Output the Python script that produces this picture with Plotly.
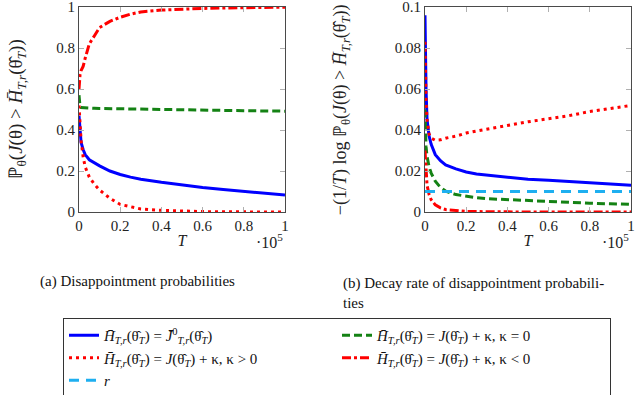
import plotly.graph_objects as go
from plotly.subplots import make_subplots

# T in units of 1e5
T = [0, 0.002, 0.005, 0.01, 0.02, 0.03, 0.05, 0.075, 0.1, 0.15, 0.2,
     0.25, 0.3, 0.4, 0.5, 0.6, 0.7, 0.8, 0.9, 1.0]

# (a) disappointment probabilities
prob_bias = [0.47, 0.44, 0.39, 0.34, 0.305, 0.28, 0.255, 0.24, 0.225, 0.2, 0.183,
             0.17, 0.16, 0.145, 0.132, 0.12, 0.11, 0.1, 0.091, 0.083]
prob_k0 = [0.57, 0.53, 0.515, 0.51, 0.509, 0.508, 0.507, 0.506, 0.505, 0.504, 0.503,
           0.502, 0.501, 0.5, 0.499, 0.497, 0.496, 0.494, 0.493, 0.492]
prob_kpos = [0.52, 0.47, 0.42, 0.35, 0.27, 0.22, 0.17, 0.135, 0.107, 0.067, 0.037,
             0.025, 0.015, 0.008, 0.004, 0.002, 0.001, 0.0, 0.0, 0.0]
prob_kneg = [0.6, 0.64, 0.67, 0.69, 0.71, 0.75, 0.82, 0.86, 0.9, 0.93, 0.95,
             0.965, 0.976, 0.985, 0.99, 0.993, 0.995, 0.997, 0.998, 0.999]

# (b) decay rates
rate_bias = [0.096, 0.08, 0.06, 0.045, 0.037, 0.033, 0.028, 0.025, 0.023, 0.021, 0.0195,
             0.0185, 0.018, 0.0168, 0.016, 0.0155, 0.015, 0.0143, 0.0137, 0.013]
rate_k0 = [0.05, 0.04, 0.032, 0.027, 0.022, 0.019, 0.015, 0.012, 0.0102, 0.0085, 0.0076,
           0.007, 0.0065, 0.006, 0.0055, 0.005, 0.0046, 0.0043, 0.004, 0.0037]
rate_kpos = [0.083, 0.07, 0.055, 0.045, 0.038, 0.036, 0.035, 0.0352, 0.036, 0.037, 0.0385,
             0.0395, 0.0405, 0.0422, 0.044, 0.0455, 0.047, 0.049, 0.0505, 0.052]
rate_kneg = [0.03, 0.025, 0.018, 0.013, 0.0085, 0.006, 0.0035, 0.002, 0.0012, 0.0006, 0.0003,
             0.0002, 0.0001, 0.0, 0.0, 0.0, 0.0, 0.0, 0.0, 0.0]
rate_r = [0.01] * len(T)

x_ticks = [0, 0.2, 0.4, 0.6, 0.8, 1]
x_ticktext = ["0", "0.2", "0.4", "0.6", "0.8", "1"]
ya_ticks = [0, 0.2, 0.4, 0.6, 0.8, 1]
ya_ticktext = ["0", "0.2", "0.4", "0.6", "0.8", "1"]
yb_ticks = [0, 0.02, 0.04, 0.06, 0.08, 0.1]
yb_ticktext = ["0", "0.02", "0.04", "0.06", "0.08", "0.1"]

FONT = "Liberation Serif, Times New Roman, serif"
H = "<i>H\u0304</i><sub><i>T,r</i></sub>(θ\u0302<sub><i>T</i></sub>)"
names = [
    H + " = <i>J\u0304</i><sup>0</sup><sub><i>T,r</i></sub>(θ\u0302<sub><i>T</i></sub>)",
    H + " = <i>J</i>(θ\u0302<sub><i>T</i></sub>) + κ, κ = 0",
    H + " = <i>J</i>(θ\u0302<sub><i>T</i></sub>) + κ, κ &gt; 0",
    H + " = <i>J</i>(θ\u0302<sub><i>T</i></sub>) + κ, κ &lt; 0",
    "<i>r</i>",
]
styles = [
    dict(color="rgb(0,0,255)", width=3),
    dict(color="rgb(20,130,20)", width=3, dash="8px,4px"),
    dict(color="rgb(255,0,0)", width=3, dash="3px,4px"),
    dict(color="rgb(255,0,0)", width=3, dash="9px,3px,3px,3px"),
    dict(color="rgb(30,175,240)", width=3, dash="10px,7px"),
]

fig = make_subplots(rows=1, cols=2, horizontal_spacing=0.2536)

for ys, st in zip([prob_bias, prob_k0, prob_kpos, prob_kneg], styles[:4]):
    fig.add_trace(go.Scatter(x=T, y=ys, mode="lines", line=st, showlegend=False), row=1, col=1)

for ys, st, nm in zip([rate_bias, rate_k0, rate_kpos, rate_kneg, rate_r], styles, names):
    fig.add_trace(go.Scatter(x=T, y=ys, mode="lines", line=st, name=nm), row=1, col=2)

axis_common = dict(showline=True, linecolor="#4a4a4a", linewidth=1, mirror="ticks",
                   ticks="inside", ticklen=5, tickcolor="#b0b0b0", showgrid=False,
                   zeroline=False, ticklabeloverflow="allow",
                   tickfont=dict(family=FONT, size=15, color="#222"))
fig.update_xaxes(range=[0, 1], tickvals=x_ticks, ticktext=x_ticktext,
                 title=dict(text="<i>T</i>", font=dict(family=FONT, size=16, color="#222"), standoff=1),
                 **axis_common)
fig.update_yaxes(range=[0, 1], tickvals=ya_ticks, ticktext=ya_ticktext, row=1, col=1, **axis_common)
fig.update_yaxes(range=[0, 0.1], tickvals=yb_ticks, ticktext=yb_ticktext, row=1, col=2, **axis_common)
fig.update_layout(xaxis=dict(domain=[0, 0.3732]), xaxis2=dict(domain=[0.6268, 1]))

tfont = dict(family=FONT, size=16, color="#222")
ann = [
    dict(text="ℙ<sub>θ</sub>(<i>J</i>(θ) &gt; " + H + ")", x=-0.114, y=0.5, textangle=-90,
         font=dict(family=FONT, size=19, color="#222")),
    dict(text="−(1/<i>T</i>) log ℙ<sub>θ</sub>(<i>J</i>(θ) &gt; " + H + ")", x=0.476, y=0.5,
         textangle=-90, font=dict(family=FONT, size=18, color="#222")),
    dict(text="·10<sup>5</sup>", x=0.3732, y=-0.142, xanchor="right"),
    dict(text="·10<sup>5</sup>", x=1.0, y=-0.142, xanchor="right"),
    dict(text="(a) Disappointment probabilities", x=-0.074, y=-0.341, xanchor="left",
         font=dict(family=FONT, size=15, color="#111")),
    dict(text="(b) Decay rate of disappointment probabili-<br>ties", x=0.475, y=-0.298,
         xanchor="left", yanchor="top", align="left",
         font=dict(family=FONT, size=15, color="#111")),
]
for a in ann:
    a.setdefault("xref", "paper")
    a.setdefault("yref", "paper")
    a.setdefault("showarrow", False)
    a.setdefault("font", tfont)
    a.setdefault("xanchor", "center")
    a.setdefault("yanchor", "middle")
fig.update_layout(annotations=ann)

fig.update_layout(
    width=640, height=395,
    margin=dict(l=79, r=9, t=7, b=183, autoexpand=False),
    plot_bgcolor="white", paper_bgcolor="white",
    legend=dict(orientation="h", xref="container", yref="container",
                x=63 / 640, y=1 - 318 / 395, xanchor="left", yanchor="top",
                entrywidth=228, entrywidthmode="pixels", tracegroupgap=0,
                bordercolor="#333", borderwidth=1, itemwidth=30,
                font=dict(family=FONT, size=15, color="#111")),
)

fig.write_html("out.html", config={"displayModeBar": False},
               post_script="document.body.style.margin='0';document.body.style.overflow='hidden';")
